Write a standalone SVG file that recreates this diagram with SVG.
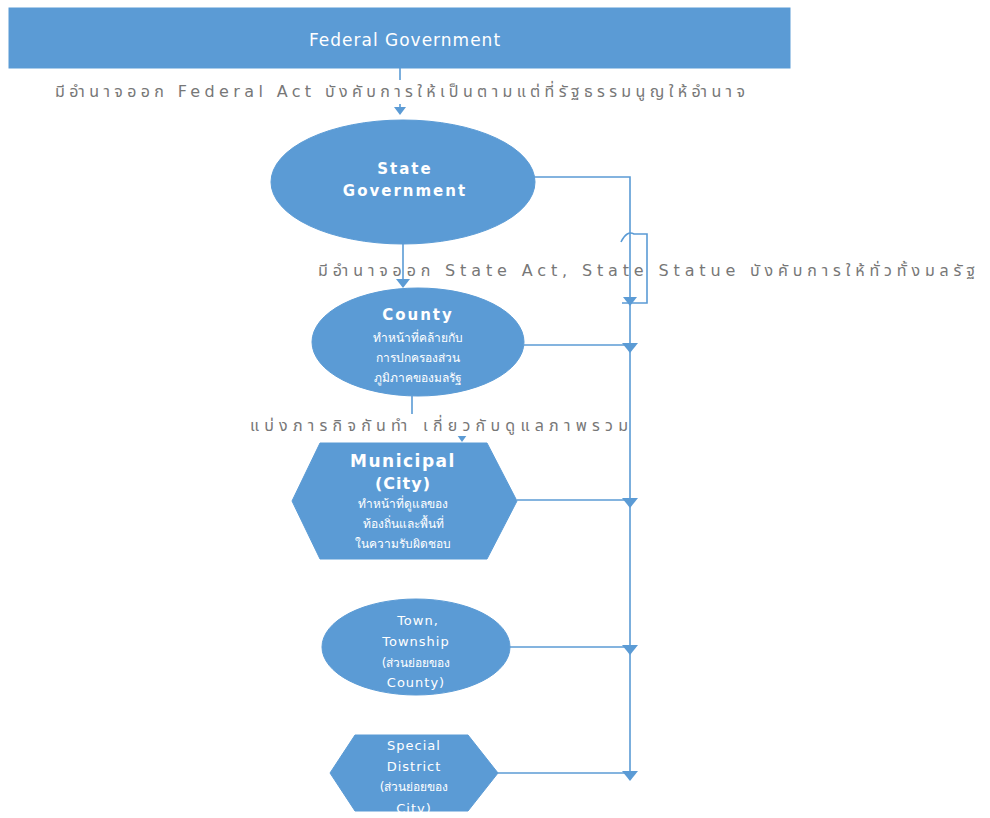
<svg xmlns="http://www.w3.org/2000/svg" width="990" height="818" viewBox="0 0 990 818">
<style>
.node{fill:#5b9bd5;stroke:#5b9bd5;stroke-width:1}
.nt{fill:#ffffff;font-family:"DejaVu Sans","Noto Sans",sans-serif;text-anchor:middle}
.b{font-weight:bold}
.lbl{fill:#777777;font-family:"DejaVu Sans","Noto Sans","Noto Sans Thai",sans-serif;font-size:16px}
.ln{fill:none;stroke:#5b9bd5;stroke-width:1.6}
.ah{fill:#5b9bd5}
</style>
<rect width="990" height="818" fill="#ffffff"/>
<g id="connectors">
  <path class="ln" d="M400,68 V108"/>
  <polygon class="ah" points="394,107 406,107 400,115"/>
  <path class="ln" d="M403,244 V280"/>
  <polygon class="ah" points="396,279 410,279 403,288"/>
  <path class="ln" d="M412,396 V425 H462 V436"/>
  <polygon class="ah" points="457,435 467,435 462,442"/>
  <path class="ln" d="M535,177 H630 V773"/>
  <path class="ln" d="M621,242 Q627,230 634,234 H647 V303 H622"/>
  <polygon class="ah" points="623,297 637,297 630,306"/>
  <path class="ln" d="M524,345 H630"/>
  <polygon class="ah" points="622,343 638,343 630,353"/>
  <path class="ln" d="M517,500 H630"/>
  <polygon class="ah" points="622,498 638,498 630,508"/>
  <path class="ln" d="M510,647 H630"/>
  <polygon class="ah" points="622,645 638,645 630,655"/>
  <path class="ln" d="M498,773 H630"/>
  <polygon class="ah" points="622,771 638,771 630,781"/>
</g>
<g id="labels">
  <rect x="52" y="80" width="696" height="24" fill="#ffffff"/>
  <text class="lbl" x="55" y="97" textLength="690" lengthAdjust="spacing">มีอำนาจออก Federal Act บังคับการให้เป็นตามแต่ที่รัฐธรรมนูญให้อำนาจ</text>
  <text class="lbl" x="318" y="276" textLength="657" lengthAdjust="spacing">มีอำนาจออก State Act, State Statue บังคับการให้ทั่วทั้งมลรัฐ</text>
  <rect x="246" y="414" width="382" height="22" fill="#ffffff"/>
  <text class="lbl" x="250" y="431" textLength="378" lengthAdjust="spacing">แบ่งภารกิจกันทำ เกี่ยวกับดูแลภาพรวม</text>
</g>
<g id="federal">
  <rect class="node" x="9" y="8" width="781" height="60"/>
  <text class="nt" x="405" y="46" font-size="17" letter-spacing="1">Federal Government</text>
</g>
<g id="state">
  <ellipse class="node" cx="403" cy="182" rx="132" ry="62"/>
  <text class="nt b" x="405" y="174" font-size="15" letter-spacing="2">State</text>
  <text class="nt b" x="405" y="196" font-size="15" letter-spacing="2">Government</text>
</g>
<g id="county">
  <ellipse class="node" cx="418" cy="342" rx="106" ry="54"/>
  <text class="nt b" x="418" y="320" font-size="15" letter-spacing="2">County</text>
  <text class="nt" x="418" y="342" font-size="12">ทำหน้าที่คล้ายกับ</text>
  <text class="nt" x="418" y="362" font-size="12">การปกครองส่วน</text>
  <text class="nt" x="418" y="382" font-size="12">ภูมิภาคของมลรัฐ</text>
</g>
<g id="municipal">
  <polygon class="node" points="292,501 320,443 487,443 517,501 487,559 320,559"/>
  <text class="nt b" x="403" y="467" font-size="17" letter-spacing="1.5">Municipal</text>
  <text class="nt b" x="403" y="489" font-size="16" letter-spacing="1">(City)</text>
  <text class="nt" x="403" y="508" font-size="12">ทำหน้าที่ดูแลของ</text>
  <text class="nt" x="403" y="528" font-size="12">ท้องถิ่นและพื้นที่</text>
  <text class="nt" x="403" y="548" font-size="12">ในความรับผิดชอบ</text>
</g>
<g id="town">
  <ellipse class="node" cx="416" cy="647" rx="94" ry="48"/>
  <text class="nt" x="418" y="625" font-size="13" letter-spacing="1">Town,</text>
  <text class="nt" x="416" y="646" font-size="13" letter-spacing="1">Township</text>
  <text class="nt" x="416" y="667" font-size="12">(ส่วนย่อยของ</text>
  <text class="nt" x="416" y="687" font-size="13" letter-spacing="1">County)</text>
</g>
<g id="special">
  <polygon class="node" points="330,773 355,735 468,735 498,773 468,811 355,811"/>
  <text class="nt" x="414" y="750" font-size="13" letter-spacing="1">Special</text>
  <text class="nt" x="414" y="771" font-size="13" letter-spacing="1">District</text>
  <text class="nt" x="414" y="791" font-size="12">(ส่วนย่อยของ</text>
  <text class="nt" x="414" y="813" font-size="13" letter-spacing="1">City)</text>
</g>
</svg>
